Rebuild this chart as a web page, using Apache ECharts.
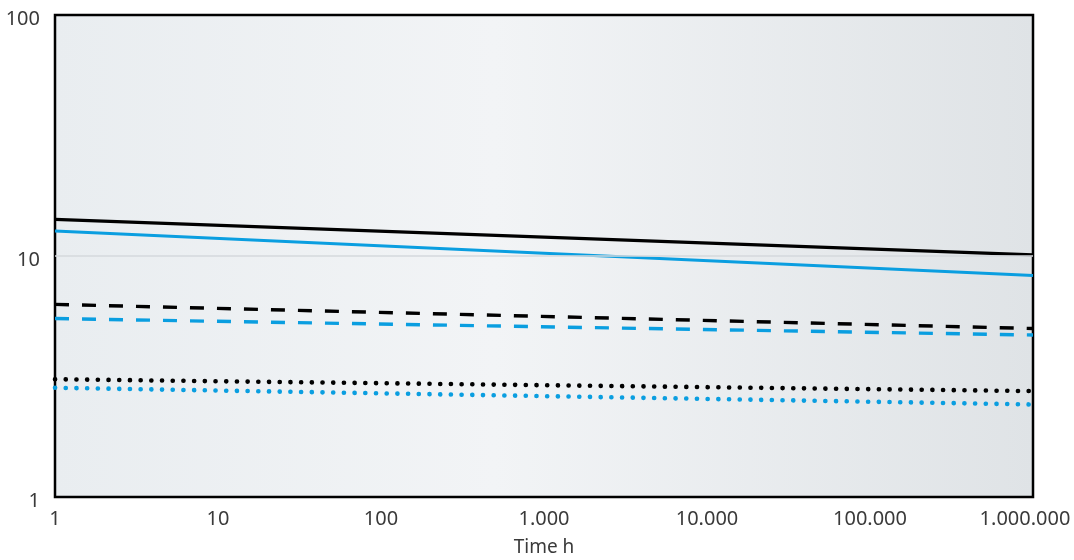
<!DOCTYPE html>
<html>
<head>
<meta charset="utf-8">
<script src="https://cdn.jsdelivr.net/npm/echarts@6/dist/echarts.min.js"></script>
<style>
html,body{margin:0;padding:0;background:#fff;}
#chart{width:1074px;height:560px;}
</style>
</head>
<body>
<div id="chart"></div>
<script>
// Data (log-log, straight lines)
const timeH = [1, 1000000];
const blackSolid = [14.2, 10.1];
const blueSolid = [12.7, 8.3];
const blackDashed = [6.3, 5.0];
const blueDashed = [5.5, 4.7];
const blackDotted = [3.08, 2.75];
const blueDotted = [2.84, 2.42];
const xTickLabels = ['1', '10', '100', '1.000', '10.000', '100.000', '1.000.000'];
const yTickLabels = ['1', '10', '100'];
const gridLineY = [10];
const xAxisName = 'Time h';

const BLACK = '#000000';
const BLUE = '#0a9ee0';
const pairs = (ys) => timeH.map((x, i) => [x, ys[i]]);

function mk(name, ys, color, type) {
  const ls = { color: color, width: 3.2, cap: 'butt' };
  if (type === 'dashed') { ls.type = [14, 13]; ls.width = 3.4; }
  if (type === 'dotted') { ls.type = [0.1, 10.6]; ls.cap = 'round'; ls.width = 4.6; }
  return {
    name: name, type: 'line', data: pairs(ys), showSymbol: false, symbol: 'none',
    lineStyle: ls, silent: true, animation: false, z: 3
  };
}

const series = [
  mk('black solid', blackSolid, BLACK, 'solid'),
  mk('blue solid', blueSolid, BLUE, 'solid'),
  mk('black dashed', blackDashed, BLACK, 'dashed'),
  mk('blue dashed', blueDashed, BLUE, 'dashed'),
  mk('black dotted', blackDotted, BLACK, 'dotted'),
  mk('blue dotted', blueDotted, BLUE, 'dotted')
];
// light horizontal gridline at 10 (drawn under the lines)
series.push({
  name: 'grid10', type: 'line', data: [], z: 1, silent: true,
  markLine: {
    silent: true, symbol: 'none', label: { show: false },
    lineStyle: { color: '#d5d9dc', width: 1.5, type: 'solid' },
    data: gridLineY.map(v => ({ yAxis: v }))
  }
});

const chart = echarts.init(document.getElementById('chart'));
const font = '"Noto Sans", sans-serif';
const TXT = '#3a3a3a';
chart.setOption({
  animation: false,
  grid: {
    left: 55, right: 41, top: 15, bottom: 63,
    outerBoundsMode: 'none',
    containLabel: false,
    show: true,
    borderColor: '#000', borderWidth: 2.5,
    backgroundColor: {
      type: 'linear', x: 0, y: 0, x2: 1, y2: 0,
      colorStops: [
        { offset: 0, color: '#e9edf0' },
        { offset: 0.45, color: '#f2f4f6' },
        { offset: 1, color: '#dfe3e6' }
      ]
    }
  },
  xAxis: {
    type: 'log', logBase: 10, min: 1, max: 1000000,
    name: xAxisName, nameLocation: 'middle', nameGap: 41,
    nameTextStyle: { fontFamily: font, fontSize: 19, color: TXT },
    axisLine: { show: false }, axisTick: { show: false },
    splitLine: { show: false },
    axisLabel: {
      fontFamily: font, fontSize: 20, color: TXT, margin: 12,
      formatter: function (v) {
        const i = Math.round(Math.log10(v));
        const s = xTickLabels[i] !== undefined ? xTickLabels[i] : '';
        return i === xTickLabels.length - 1 ? '{last|' + s + '}' : s;
      },
      rich: {
        last: { fontFamily: font, fontSize: 20, color: TXT, padding: [0, 16, 0, 0] }
      }
    }
  },
  yAxis: {
    type: 'log', logBase: 10, min: 1, max: 100,
    axisLine: { show: false }, axisTick: { show: false },
    splitLine: { show: false },
    axisLabel: {
      fontFamily: font, fontSize: 20, color: TXT, margin: 15,
      formatter: function (v) {
        const i = Math.round(Math.log10(v));
        const s = yTickLabels[i] !== undefined ? yTickLabels[i] : '';
        return '{y|' + s + '}';
      },
      rich: {
        y: { fontFamily: font, fontSize: 20, color: TXT, padding: [8, 0, 0, 0] }
      }
    }
  },
  series: series
});
</script>
</body>
</html>
